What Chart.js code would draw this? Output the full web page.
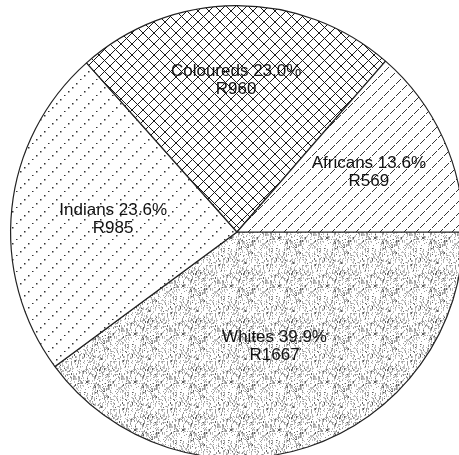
<!DOCTYPE html>
<html>
<head>
<meta charset="utf-8">
<script src="https://cdn.jsdelivr.net/npm/chart.js@4.4.0/dist/chart.umd.min.js"></script>
<style>
  html, body { margin: 0; padding: 0; background: #fff; overflow: hidden; }
  #wrap { position: absolute; left: 0; top: 0; width: 474px; height: 464px; }
</style>
</head>
<body>
<div id="wrap"><canvas id="pie"></canvas></div>
<script>
// Income shares by population group (Rand)
const groups = ["Whites", "Indians", "Coloureds", "Africans"];
const percents = ["39.9%", "23.6%", "23.0%", "13.6%"];
const rands = [1667, 985, 960, 569];
// where each label sits along its slice (fraction of radius)
const labelRadius = [0.53, 0.55, 0.67, 0.64];

// --- hatch patterns, drawn pixel by pixel on small tiles ---
function tile(size, draw) {
  const c = document.createElement("canvas");
  c.width = size; c.height = size;
  const ctx = c.getContext("2d");
  ctx.fillStyle = "#fff";
  ctx.fillRect(0, 0, size, size);
  draw(ctx, size);
  return document.createElement("canvas").getContext("2d").createPattern(c, "repeat");
}

// Whites: light grey speckle in short vertical streaks
const stipple = tile(48, (ctx, s) => {
  let seed = 11;
  const next = () => { seed = (seed * 1103515245 + 12345) & 0x7fffffff; return seed / 0x7fffffff; };
  for (let x = 0; x < s; x++) {
    for (let y = 0; y < s; y++) {
      const r = next();
      if (r < 0.24) {
        const g = r < 0.025 ? 90 : (r < 0.1 ? 150 : 190);
        ctx.fillStyle = `rgb(${g},${g},${g})`;
        ctx.fillRect(x, y, 1, next() < 0.5 ? 2 : 1);
      }
    }
  }
});

// Indians: dotted diagonal lines
const dotted = tile(16, (ctx, s) => {
  ctx.fillStyle = "#333";
  for (let i = 0; i < s; i += 4) ctx.fillRect(i, s - 1 - i, 1.5, 1.5);
});

// Coloureds: cross hatch
const cross = tile(11, (ctx, s) => {
  ctx.fillStyle = "#1a1a1a";
  for (let i = 0; i < s; i++) {
    ctx.fillRect(i, i, 1, 1);
    ctx.fillRect(i, s - 1 - i, 1, 1);
  }
});

// Africans: thin diagonal lines
const hatch = tile(12, (ctx, s) => {
  ctx.fillStyle = "#333";
  for (let i = 0; i < s; i++) {
    if (i % 6 !== 5) ctx.fillRect(i, s - 1 - i, 1, 1);
  }
});

const fills = [stipple, dotted, cross, hatch];

// labels drawn at each slice's middle angle
const sliceLabels = {
  id: "sliceLabels",
  afterDatasetsDraw(chart) {
    const ctx = chart.ctx;
    const meta = chart.getDatasetMeta(0);
    ctx.save();
    ctx.font = "17px 'Liberation Sans', Arial, sans-serif";
    ctx.textAlign = "center";
    ctx.textBaseline = "middle";
    ctx.fillStyle = "#111";
    meta.data.forEach((arc, i) => {
      const p = arc.getProps(["x", "y", "startAngle", "endAngle", "outerRadius"], true);
      const mid = (p.startAngle + p.endAngle) / 2;
      const r = p.outerRadius * labelRadius[i];
      const x = p.x + Math.cos(mid) * r;
      const y = p.y + Math.sin(mid) * r;
      ctx.fillText(groups[i] + " " + percents[i], x, y - 9);
      ctx.fillText("R" + rands[i], x, y + 9);
    });
    ctx.restore();
  }
};

new Chart(document.getElementById("pie"), {
  type: "pie",
  data: {
    labels: groups,
    datasets: [{
      data: rands,
      backgroundColor: fills,
      borderColor: "#222",
      borderWidth: 1.2
    }]
  },
  options: {
    responsive: true,
    maintainAspectRatio: false,
    animation: false,
    rotation: 90,
    layout: { padding: { top: 5, bottom: 5, left: 0, right: 0 } },
    plugins: {
      legend: { display: false },
      tooltip: { enabled: false }
    }
  },
  plugins: [sliceLabels]
});
</script>
</body>
</html>
